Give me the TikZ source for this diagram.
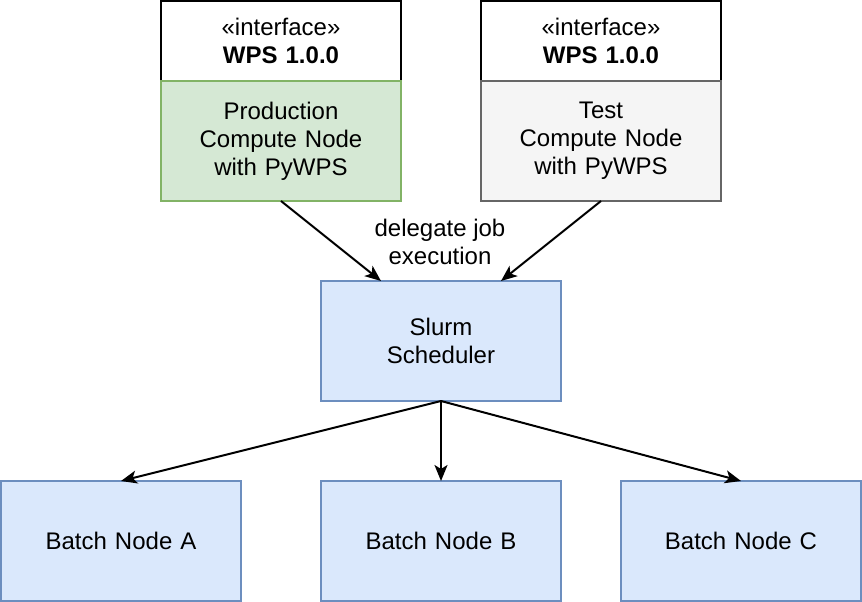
\documentclass[tikz,border=0pt]{standalone}
\usepackage{fontspec}
\setmainfont{Liberation Sans}
\usetikzlibrary{arrows.meta,calc}
\definecolor{gfill}{HTML}{D5E8D4}
\definecolor{gline}{HTML}{82B366}
\definecolor{tfill}{HTML}{F5F5F5}
\definecolor{tline}{HTML}{666666}
\definecolor{bfill}{HTML}{DAE8FC}
\definecolor{bline}{HTML}{6C8EBF}
\tikzset{
  base/.style={rectangle, inner sep=0pt, outer sep=0pt, line width=2pt, align=center,
    font=\fontsize{24}{28}\selectfont, text width=230pt},
  iface/.style={base, draw=black, fill=white, minimum width=240pt, minimum height=80pt},
  prodbox/.style={base, draw=gline, fill=gfill, minimum width=240pt, minimum height=120pt},
  testbox/.style={base, draw=tline, fill=tfill, minimum width=240pt, minimum height=120pt},
  bluebox/.style={base, draw=bline, fill=bfill, minimum width=240pt, minimum height=120pt},
  conn/.style={line width=2pt, -{Stealth[length=16pt,width=13pt,inset=4pt]}},
  lbl/.style={font=\fontsize{24}{28}\selectfont, align=center, inner sep=0pt}
}
\begin{document}
\begin{tikzpicture}[x=1pt,y=-1pt]
\useasboundingbox (0,0) rectangle (862,602);
\node[iface] (if1) at (281,41) {«interface»\\\textbf{WPS 1.0.0}};
\node[prodbox] (prod) at (281,141) {Production\\Compute Node\\with PyWPS};
\node[iface] (if2) at (601,41) {«interface»\\\textbf{WPS 1.0.0}};
\node[testbox] (test) at (601,141) {Test\\Compute Node\\with PyWPS};
\node[bluebox] (slurm) at (441,341) {Slurm\\Scheduler};
\node[bluebox] (ba) at (121,541) {Batch Node A};
\node[bluebox] (bb) at (441,541) {Batch Node B};
\node[bluebox] (bc) at (741,541) {Batch Node C};
\node[lbl] (deleg) at (440,242) {delegate job\\execution};
\draw[conn] (prod.south) -- ($(slurm.north west)!0.25!(slurm.north east)$);
\draw[conn] (test.south) -- ($(slurm.north west)!0.75!(slurm.north east)$);
\draw[conn] (slurm.south) -- (ba.north);
\draw[conn] (slurm.south) -- (bb.north);
\draw[conn] (slurm.south) -- (bc.north);
\end{tikzpicture}
\end{document}
